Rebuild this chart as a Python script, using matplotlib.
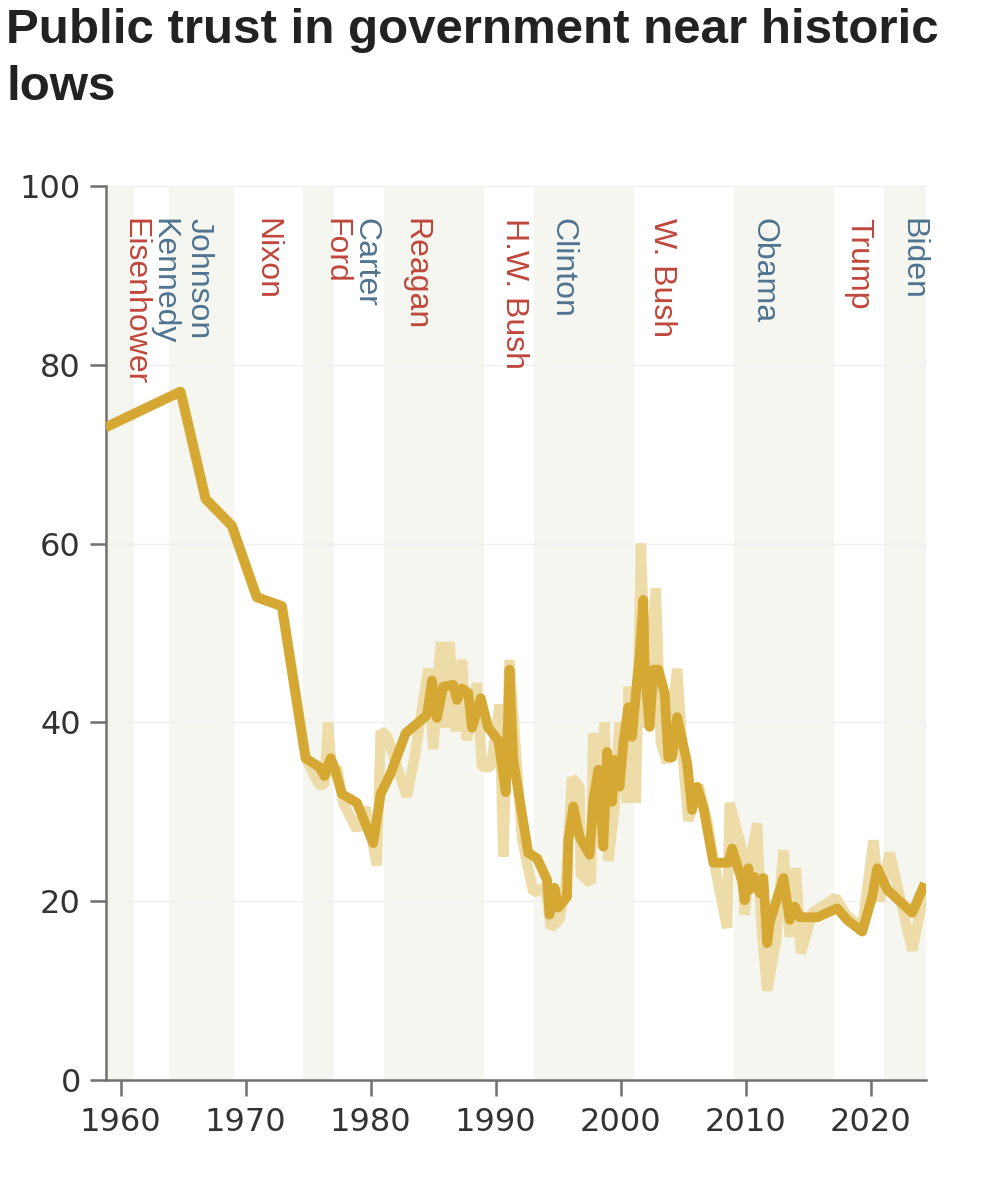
import matplotlib
matplotlib.use("Agg")
import matplotlib.pyplot as plt

# moving average of trust (thick line)
avg_years = [1958.8, 1964.8, 1966.8, 1968.9, 1970.9, 1972.9, 1974.8, 1975.9, 1976.3, 1976.8,
             1977.1, 1977.7, 1978.9, 1980.2, 1980.8, 1981.6, 1982.8, 1984.5, 1984.9, 1985.3,
             1985.8, 1986.6, 1986.9, 1987.3, 1987.8, 1988.1, 1988.8, 1989.4, 1990.2, 1990.8,
             1991.1, 1991.4, 1992.6, 1993.3, 1994.1, 1994.3, 1994.7, 1995.0, 1995.7, 1995.8,
             1996.2, 1996.7, 1997.5, 1997.8, 1998.2, 1998.6, 1998.9, 1999.3, 1999.5, 1999.9,
             2000.2, 2000.6, 2000.9, 2001.3, 2001.5, 2001.8, 2001.9, 2002.3, 2002.6, 2003.0,
             2003.5, 2003.8, 2004.1, 2004.5, 2005.3, 2005.7, 2006.1, 2006.6, 2007.4, 2008.6,
             2008.9, 2009.7, 2009.9, 2010.2, 2010.3, 2010.7, 2011.1, 2011.4, 2011.7, 2011.9,
             2013.0, 2013.5, 2013.9, 2014.3, 2015.7, 2017.3, 2018.1, 2019.3, 2020.1, 2020.5,
             2021.3, 2023.3, 2024.3]
avg_vals = [73, 77, 65, 62, 54, 53, 36, 35, 34, 36,
            35, 32, 31, 26.5, 32, 34.3, 38.8, 40.8, 44.7, 40.5,
            44, 44.2, 42.5, 43.8, 43.3, 39.4, 42.7, 39.4, 38, 32.2,
            45.9, 35.8, 25.4, 24.8, 22.4, 18.5, 21.5, 19.3, 20.5, 26.8,
            30.6, 27.2, 25.2, 31.3, 34.7, 26.1, 36.7, 31.1, 35.8, 32.8,
            37.7, 41.7, 38.4, 44.7, 47.3, 53.7, 46.2, 39.5, 45.9, 45.9,
            43.3, 36.1, 36.1, 40.6, 35.5, 30.2, 32.8, 30.5, 24.3, 24.3,
            25.9, 22.2, 20.1, 23.7, 21.3, 22.7, 20.9, 22.6, 15.3, 17.6,
            22.6, 17.9, 19.4, 18.2, 18.2, 19.2, 17.9, 16.6, 20.5, 23.7,
            21.3, 18.7, 22.0]

# individual polls (light line)
poll_years = [1958.8, 1964.8, 1966.8, 1968.9, 1970.9, 1972.9, 1974.8, 1975.9, 1976.3, 1976.6,
              1976.9, 1977.3, 1977.8, 1978.9, 1979.6, 1980.5, 1980.8, 1981.3, 1982.9, 1983.5,
              1984.6, 1985.0, 1985.6, 1986.0, 1986.3, 1986.8, 1987.3, 1987.7, 1988.5, 1988.9,
              1989.6, 1990.3, 1990.6, 1991.1, 1992.1, 1993.0, 1994.0, 1994.4, 1995.1, 1995.6,
              1996.1, 1996.7, 1996.8, 1997.6, 1997.8, 1998.5, 1998.7, 1999.0, 1999.5, 1999.9,
              2000.5, 2000.6, 2001.2, 2001.6, 2002.1, 2002.8, 2003.2, 2003.7, 2004.5, 2005.0,
              2005.4, 2006.2, 2006.9, 2007.5, 2008.5, 2008.7, 2009.7, 2009.9, 2010.3, 2010.9,
              2011.2, 2011.7, 2012.4, 2013.0, 2013.5, 2014.0, 2014.4, 2015.3, 2017.2, 2018.0,
              2019.3, 2020.2, 2020.7, 2021.5, 2023.3, 2024.4]
poll_vals = [73, 77, 65, 62, 54, 53, 36, 33, 33, 40,
             34, 35, 31, 28, 30.5, 24, 39, 38.5, 31.7, 36,
             46, 37, 49, 39.4, 49, 39, 47, 38, 44.4, 35,
             35, 42, 25, 47, 27, 21, 21.5, 17, 18, 22,
             33.8, 32.8, 23, 22, 38.8, 26, 40, 24.5, 30.5, 40,
             31, 44, 31, 60, 39.4, 55, 37.7, 35.5, 46, 35.5,
             29, 33, 29, 24, 17, 31, 25.7, 18.5, 24, 28.7,
             18, 10, 15.5, 25.7, 16, 23.7, 14.2, 18.7, 20.4, 18.5,
             17, 26.8, 20, 25.4, 14.5, 22]

# shaded presidencies (alternating)
band_start = [1953.0, 1963.9, 1974.6, 1981.05, 1993.05, 2009.05, 2021.05]
band_end = [1961.05, 1969.05, 1977.05, 1989.05, 2001.05, 2017.05, 2025.0]

presidents = ["Eisenhower", "Kennedy", "Johnson", "Nixon", "Ford", "Carter", "Reagan",
              "H.W. Bush", "Clinton", "W. Bush", "Obama", "Trump", "Biden"]
label_x = [1961.1, 1963.4, 1966.2, 1971.7, 1977.2, 1979.6, 1983.6,
           1991.5, 1995.3, 2003.3, 2011.4, 2019.0, 2023.3]
party = ["R", "D", "D", "R", "R", "D", "R", "R", "D", "R", "D", "R", "D"]

x_ticks = [1960, 1970, 1980, 1990, 2000, 2010, 2020]
y_ticks = [0, 20, 40, 60, 80, 100]

party_color = {"R": "#c0463a", "D": "#4f7390"}
W, H = 995, 1186

fig = plt.figure(figsize=(W / 100, H / 100), dpi=100)
ax = fig.add_axes([106.5 / W, 106 / H, (926 - 106.5) / W, 894 / H])

for s, e in zip(band_start, band_end):
    ax.axvspan(s, e, color="#f5f6ef", lw=0, zorder=0)

for y in y_ticks[1:]:
    ax.axhline(y, color="#efefef", lw=1, zorder=1)

ax.plot(poll_years, poll_vals, color="#eedca8", lw=7.5, solid_joinstyle="bevel",
        solid_capstyle="butt", zorder=2)
ax.plot(avg_years, avg_vals, color="#d4a832", lw=7, solid_joinstyle="round",
        solid_capstyle="butt", zorder=3)

for name, x, p in zip(presidents, label_x, party):
    ax.text(x, 96.4, name, rotation=270, ha="center", va="top", fontsize=23,
            family="Liberation Sans", color=party_color[p], zorder=4)

ax.set_xlim(1958.88, 2024.4)
ax.set_ylim(0, 100)
ax.set_xticks(x_ticks)
ax.set_yticks(y_ticks)
for side in ["top", "right"]:
    ax.spines[side].set_visible(False)
for side in ["left", "bottom"]:
    ax.spines[side].set_color("#707070")
    ax.spines[side].set_linewidth(1.8)
ax.tick_params(axis="both", colors="#707070", width=1.8, length=11.5,
               labelsize=23, labelcolor="#333333")
ax.tick_params(axis="y", pad=7)
ax.tick_params(axis="x", pad=8)
for lab in ax.get_xticklabels() + ax.get_yticklabels():
    lab.set_family("DejaVu Sans")

# title, sized to fill the width like the original
t1 = fig.text(6 / W, 1 - 43 / H, "Public trust in government near historic",
              fontsize=34, fontweight="bold", family="Liberation Sans",
              color="#222222", va="baseline", ha="left")
fig.canvas.draw()
w = t1.get_window_extent().width
size = 34 * 934 / w
t1.set_fontsize(size)
fig.text(6 / W, 1 - 100 / H, "lows", fontsize=size, fontweight="bold",
         family="Liberation Sans", color="#222222", va="baseline", ha="left")

fig.savefig("out.png", dpi=100)
